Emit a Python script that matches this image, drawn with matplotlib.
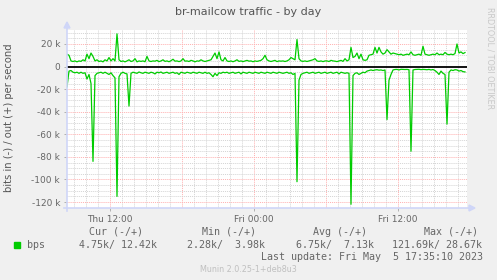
import matplotlib
matplotlib.use('Agg')
import matplotlib.pyplot as plt
import numpy as np
from matplotlib.lines import Line2D
from matplotlib.patches import Polygon, Rectangle

# 10 minute samples, starting Thu 08:25 (hours since Thu 00:00)
t_start = 8.417
step_h = 1.0 / 6

# out (+) traffic, kbit/s
bps_out = [
    11, 10, 5, 4.5, 5, 4.2, 5, 4.6, 6, 5,
    11, 7, 12, 9, 5, 6, 4.5, 5, 4.2, 6,
    5, 8, 5, 7, 5, 29, 6, 4.5, 5, 4.2,
    5, 6, 4.5, 5, 7, 4.2, 5, 4.6, 5, 4.3,
    9, 5, 4.5, 5, 4.8, 5.5, 4.4, 5, 6, 4.6,
    5, 4.3, 5.2, 6.5, 4.8, 5, 4.4, 5, 7, 4.8,
    5, 4.5, 5.5, 5, 4.2, 5, 4.8, 6, 5, 4.5,
    5, 5.5, 6, 9, 12, 7, 13, 6, 5, 8,
    5, 4.5, 5, 4.3, 5, 6, 4.6, 5, 4.4, 5,
    5.5, 4.8, 5, 4.3, 5, 4.6, 5, 5.5, 7, 10,
    6, 5, 4.5, 5, 5.5, 4.4, 5, 4.8, 5, 4.5,
    5, 6, 8, 7, 6, 24, 7, 5, 4.6, 5,
    4.5, 5, 5.5, 6, 7, 5, 4.6, 5, 4.4, 5,
    5, 4.5, 5.5, 5, 4.8, 4.4, 5, 5.5, 4.6, 7,
    5, 6, 17, 8, 9, 12, 7, 11, 6, 5.5,
    6, 10, 10.5, 11, 17, 12, 17, 13, 11, 12,
    15, 13, 11, 12, 11.5, 11, 10.5, 11, 10, 10.5,
    11, 10.5, 13, 10.5, 10, 10.5, 11, 10, 18, 11,
    10.5, 10, 10.5, 11, 10.5, 12, 10.5, 11, 10.5, 12.5,
    11, 10.5, 11, 10.5, 11.5, 20, 12, 13, 11.5, 12.4,
]

# in (-) traffic, kbit/s (drawn negative)
bps_in = [
    -18, -4, -3.5, -5, -5.5, -5, -6, -5, -6, -5.5,
    -11, -7, -15, -84, -8, -6, -5.5, -5, -6, -5,
    -6, -7, -5.5, -8, -10, -115, -9, -6, -5, -6,
    -6.5, -35, -6, -5, -5.5, -6, -4.8, -5.5, -6, -5,
    -5.5, -6, -5, -5.5, -6.5, -5, -5.5, -4.8, -6, -5.5,
    -5, -6, -5.5, -5, -6, -5.5, -7, -5, -5.5, -6,
    -5, -5.5, -6, -5, -5.5, -6, -5, -5.5, -6, -5,
    -6, -5.5, -7, -9, -6, -8, -5.5, -6, -5, -5.5,
    -5, -6, -5.5, -5, -6, -5.5, -5, -6.5, -5, -5.5,
    -6, -5, -5.5, -6, -5, -5.5, -6, -5, -5.5, -6,
    -5, -5.5, -6, -5, -5.5, -6, -5, -5.5, -6, -5.5,
    -5, -6, -5.5, -7, -6, -102, -12, -7, -6, -5.5,
    -5, -6, -5.5, -5, -6, -5.5, -5, -6, -5.5, -5,
    -6, -5.5, -5, -6, -5.5, -5, -6.5, -5, -5.5, -6,
    -5.5, -6, -122, -8, -6, -5.5, -7, -6, -5, -5.5,
    -4, -3.5, -3, -3.5, -3, -2.8, -3.2, -3, -3.5, -3,
    -47, -12, -7, -3, -2.6, -2.5, -3, -2.4, -2.5, -2.6,
    -2.5, -2.8, -75, -3, -2.6, -2.5, -2.4, -2.7, -2.5, -2.6,
    -2.8, -2.5, -3, -2.6, -3.5, -5, -7, -4, -6, -7,
    -51, -5, -3, -3.5, -2.8, -3, -4, -3.5, -4.5, -4.75,
]

x_ticks = [12, 24, 36]
x_labels = ['Thu 12:00', 'Fri 00:00', 'Fri 12:00']
y_ticks = [20, 0, -20, -40, -60, -80, -100, -120]
y_labels = ['20 k', '0', '-20 k', '-40 k', '-60 k', '-80 k', '-100 k', '-120 k']

leg_heads = ['Cur (-/+)', 'Min (-/+)', 'Avg (-/+)', 'Max (-/+)']
leg_vals = ['4.75k/ 12.42k', '2.28k/  3.98k', '6.75k/  7.13k', '121.69k/ 28.67k']

W, H = 497, 280
FONT = '#666666'
AXIS = '#CFD6F8'
GREEN = '#00CC00'

fig = plt.figure(figsize=(W / 100, H / 100), dpi=100, facecolor='#F0F0F0')

def px(x, y):
    return x / W, 1 - y / H

L, R, T, B = 67, 467, 30, 208
ax = fig.add_axes([L / W, 1 - B / H, (R - L) / W, (B - T) / H])
ax.set_facecolor('white')

xs = t_start + np.arange(len(bps_out)) * step_h
x0, x1 = t_start, t_start + (R - L) / 12.0
ax.set_xlim(x0, x1)
ax.set_ylim(-125.3, 32.4)

dot = (0, (1, 1))
for h in range(9, 42):
    c = '#FFB0B0' if h % 6 == 0 else '#D4D4D4'
    ax.axvline(h, color=c, lw=0.7, ls=dot, zorder=1)
for v in range(-125, 33, 5):
    if v == 0:
        continue
    c = '#FFB0B0' if v % 20 == 0 else '#D4D4D4'
    ax.axhline(v, color=c, lw=0.7, ls=dot, zorder=1)

ax.axhline(0, color='black', lw=1.3, zorder=3)
ax.plot(xs, bps_out, color=GREEN, lw=0.9, zorder=4)
ax.plot(xs, bps_in, color=GREEN, lw=0.9, zorder=4)

for s in ax.spines.values():
    s.set_visible(False)
ax.set_xticks(x_ticks)
ax.set_xticklabels(x_labels)
ax.set_yticks(y_ticks)
ax.set_yticklabels(y_labels)
ax.tick_params(axis='both', length=2, width=0.7, color='#B0B0B0',
               labelsize=6.5, labelcolor=FONT, pad=3)

# axis lines with arrows
fig.add_artist(Line2D([px(L, 0)[0]] * 2, [px(0, B + 3)[1], px(0, T - 3)[1]],
                      color=AXIS, lw=1.2))
fig.add_artist(Line2D([px(L - 3, 0)[0], px(R + 3, 0)[0]], [px(0, B)[1]] * 2,
                      color=AXIS, lw=1.2))
fig.add_artist(Polygon([px(L - 3, T - 2), px(L + 3, T - 2), px(L, T - 8)],
                       closed=True, color=AXIS))
fig.add_artist(Polygon([px(R + 2, B - 3), px(R + 2, B + 3), px(R + 8, B)],
                       closed=True, color=AXIS))

fig.text(*px(248, 12), 'br-mailcow traffic - by day', ha='center', va='center',
         fontsize=8, color='#555555')
fig.text(*px(9, 118), 'bits in (-) / out (+) per second', rotation=90,
         ha='center', va='center', fontsize=7.2, color='#555555')
fig.text(*px(490, 58), 'RRDTOOL / TOBI OETIKER', rotation=270,
         ha='center', va='center', fontsize=5.8, color='#C8C8C8')

mono = 'DejaVu Sans Mono'
fig.add_artist(Rectangle(px(14, 248), 6 / W, 6 / H, color=GREEN))
fig.text(*px(27, 245), 'bps', ha='left', va='center', fontsize=7.2,
         family=mono, color=FONT)
head_x = [89, 202, 313, 424]
val_x = [79, 187, 296, 392]
for hx, vx, hd, vl in zip(head_x, val_x, leg_heads, leg_vals):
    fig.text(*px(hx, 232), hd, ha='left', va='center', fontsize=7.2,
             family=mono, color=FONT)
    fig.text(*px(vx, 245), vl, ha='left', va='center', fontsize=7.2,
             family=mono, color=FONT)
fig.text(*px(483, 257), 'Last update: Fri May  5 17:35:10 2023', ha='right',
         va='center', fontsize=7.2, family=mono, color=FONT)
fig.text(*px(248, 269), 'Munin 2.0.25-1+deb8u3', ha='center', va='center',
         fontsize=5.8, color='#C0C0C0')

fig.savefig('out.png', dpi=100, facecolor=fig.get_facecolor())
